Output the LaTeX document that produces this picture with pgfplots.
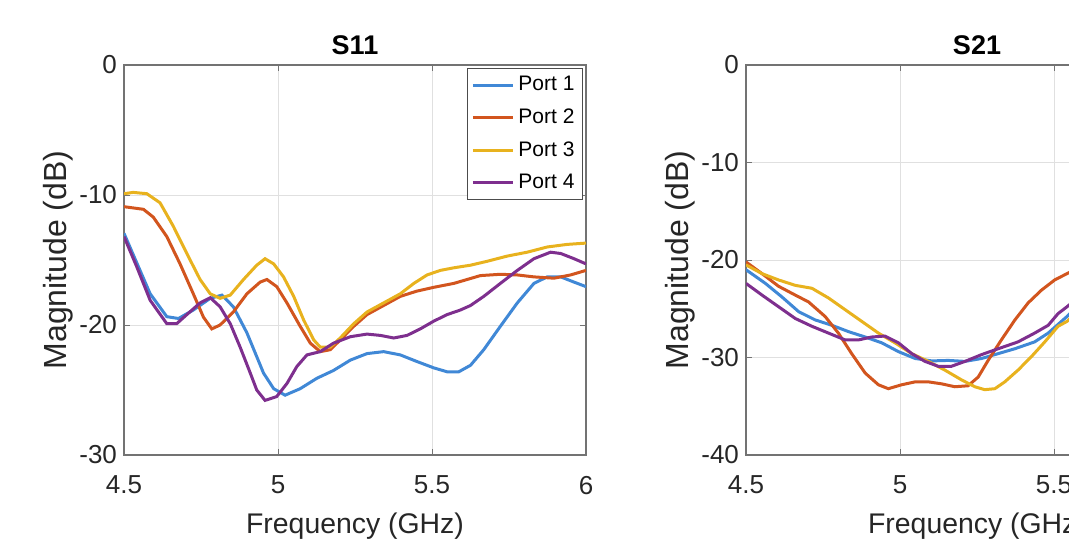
\documentclass[border=0pt]{standalone}
\usepackage{fontspec}
\setmainfont{Liberation Sans}
\usepackage{pgfplots}
\pgfplotsset{compat=1.18}

\definecolor{mblue}{RGB}{64,136,214}
\definecolor{morange}{RGB}{210,85,30}
\definecolor{myellow}{RGB}{232,178,30}
\definecolor{mpurple}{RGB}{126,47,142}
\definecolor{mtext}{RGB}{38,38,38}

\pgfplotsset{
  mstyle/.style={
    scale only axis, width=231pt, height=195pt,
    anchor=south west,
    xmin=4.5, xmax=6,
    xtick={4.5,5,5.5,6},
    grid=major,
    major grid style={black!12, line width=0.4pt},
    axis line style={black!55, line width=0.6pt},
    tick align=inside, major tick length=3pt,
    tick style={black!55},
    every tick label/.append style={font=\fontsize{13}{15}\selectfont, text=mtext},
    xticklabel shift=7pt,
    ylabel shift=-4pt,
    /pgf/number format/assume math mode=true,
    xlabel={Frequency (GHz)},
    ylabel={Magnitude (dB)},
    xlabel style={font=\fontsize{14.2}{16}\selectfont, text=mtext, yshift=-2.5pt},
    ylabel style={font=\fontsize{16}{18}\selectfont, text=mtext},
    title style={font=\fontsize{13.5}{16}\selectfont\bfseries, yshift=-4.5pt},
    every axis plot/.append style={line width=1.5pt, no markers},
  }
}

\begin{document}
\begin{tikzpicture}
\path[use as bounding box] (0pt,0pt) rectangle (534.5pt,275pt);
\clip (0pt,0pt) rectangle (534.5pt,275pt);

\begin{axis}[mstyle, at={(62pt,47.5pt)},
  title={S11},
  ymin=-30, ymax=0, ytick={-30,-20,-10,0},
  legend style={at={(1,1)}, anchor=north east, xshift=-1.5pt, yshift=-1.5pt,
    font=\fontsize{10.5}{12.5}\selectfont, draw=black!70, line width=0.5pt,
    inner sep=2pt, row sep=3.5pt, cells={anchor=west}},
  legend image code/.code={\draw[#1] (0pt,0pt) -- (20pt,0pt);},
]
\addplot[mblue] coordinates {
(4.5,-12.95) (4.585,-17.6) (4.639,-19.36) (4.677,-19.5) (4.725,-18.85) (4.78,-17.95)
(4.818,-17.7) (4.855,-18.6) (4.899,-20.6) (4.953,-23.7) (4.986,-24.9) (5.023,-25.4)
(5.072,-24.9) (5.126,-24.1) (5.18,-23.5) (5.235,-22.7) (5.289,-22.2) (5.343,-22.05)
(5.397,-22.3) (5.45,-22.8) (5.506,-23.3) (5.549,-23.6) (5.587,-23.6) (5.625,-23.1)
(5.668,-21.9) (5.722,-20.1) (5.777,-18.3) (5.831,-16.8) (5.874,-16.3) (5.918,-16.3)
(5.961,-16.7) (6.0,-17.05)};
\addlegendentry{Port 1}
\addplot[morange] coordinates {
(4.5,-10.9) (4.563,-11.1) (4.595,-11.7) (4.639,-13.2) (4.682,-15.3) (4.725,-17.6)
(4.758,-19.4) (4.785,-20.3) (4.812,-20.0) (4.855,-19.0) (4.899,-17.6) (4.942,-16.7)
(4.964,-16.5) (4.996,-17.05) (5.029,-18.3) (5.072,-20.1) (5.105,-21.4) (5.137,-22.05)
(5.17,-21.9) (5.202,-21.15) (5.246,-20.1) (5.289,-19.2) (5.343,-18.5) (5.397,-17.8)
(5.45,-17.4) (5.506,-17.1) (5.571,-16.8) (5.614,-16.5) (5.657,-16.2) (5.722,-16.1)
(5.777,-16.15) (5.831,-16.3) (5.896,-16.4) (5.95,-16.15) (6.0,-15.8)};
\addlegendentry{Port 2}
\addplot[myellow] coordinates {
(4.5,-9.9) (4.53,-9.8) (4.574,-9.9) (4.617,-10.6) (4.66,-12.4) (4.704,-14.5)
(4.747,-16.5) (4.78,-17.6) (4.812,-17.95) (4.845,-17.7) (4.888,-16.5) (4.931,-15.4)
(4.958,-14.9) (4.986,-15.3) (5.018,-16.3) (5.051,-17.8) (5.083,-19.6) (5.116,-21.15)
(5.137,-21.7) (5.17,-21.7) (5.202,-21.0) (5.246,-19.9) (5.289,-19.0) (5.343,-18.3)
(5.397,-17.6) (5.441,-16.8) (5.484,-16.15) (5.527,-15.8) (5.571,-15.6) (5.625,-15.4)
(5.679,-15.1) (5.744,-14.7) (5.809,-14.4) (5.874,-14.0) (5.939,-13.8) (6.0,-13.7)};
\addlegendentry{Port 3}
\addplot[mpurple] coordinates {
(4.5,-13.2) (4.541,-15.5) (4.585,-18.1) (4.639,-19.9) (4.671,-19.9) (4.704,-19.2)
(4.747,-18.3) (4.78,-17.9) (4.812,-18.6) (4.845,-19.9) (4.877,-21.7) (4.91,-23.7)
(4.931,-25.0) (4.958,-25.8) (4.996,-25.5) (5.029,-24.5) (5.061,-23.2) (5.094,-22.3)
(5.137,-22.05) (5.18,-21.4) (5.235,-20.9) (5.289,-20.7) (5.332,-20.8) (5.376,-21.0)
(5.419,-20.8) (5.462,-20.3) (5.506,-19.7) (5.549,-19.2) (5.592,-18.85) (5.625,-18.5)
(5.668,-17.8) (5.722,-16.8) (5.777,-15.8) (5.831,-14.9) (5.885,-14.4) (5.918,-14.5)
(5.961,-14.9) (6.0,-15.3)};
\addlegendentry{Port 4}
\end{axis}

\begin{axis}[mstyle, at={(373pt,47.5pt)},
  title={S21},
  ymin=-40, ymax=0, ytick={-40,-30,-20,-10,0},
]
\addplot[mblue] coordinates {
(4.5,-21.0) (4.563,-22.4) (4.617,-23.8) (4.671,-25.3) (4.725,-26.15) (4.779,-26.7)
(4.833,-27.35) (4.887,-27.9) (4.941,-28.5) (4.995,-29.4) (5.049,-30.1) (5.103,-30.35)
(5.157,-30.3) (5.211,-30.4) (5.265,-30.1) (5.319,-29.6) (5.373,-29.1) (5.437,-28.4)
(5.481,-27.5) (5.524,-26.3) (5.542,-25.8) (5.58,-24.6)};
\addplot[morange] coordinates {
(4.5,-20.2) (4.552,-21.4) (4.606,-22.7) (4.66,-23.6) (4.703,-24.3) (4.757,-25.8)
(4.8,-27.5) (4.843,-29.6) (4.887,-31.6) (4.93,-32.8) (4.962,-33.2) (5.005,-32.8)
(5.049,-32.5) (5.092,-32.5) (5.135,-32.7) (5.178,-33.0) (5.221,-32.9) (5.254,-32.0)
(5.286,-30.3) (5.329,-28.2) (5.373,-26.15) (5.416,-24.4) (5.459,-23.1) (5.502,-22.05)
(5.542,-21.4) (5.58,-20.8)};
\addplot[myellow] coordinates {
(4.5,-20.5) (4.552,-21.4) (4.606,-22.05) (4.66,-22.6) (4.714,-22.9) (4.768,-23.9)
(4.822,-25.1) (4.876,-26.3) (4.93,-27.5) (4.984,-28.5) (5.038,-29.6) (5.092,-30.4)
(5.146,-31.3) (5.2,-32.3) (5.243,-33.0) (5.275,-33.3) (5.308,-33.2) (5.34,-32.5)
(5.383,-31.3) (5.427,-29.9) (5.47,-28.4) (5.513,-26.8) (5.542,-26.3) (5.58,-25.2)};
\addplot[mpurple] coordinates {
(4.5,-22.4) (4.552,-23.6) (4.606,-24.8) (4.66,-26.0) (4.714,-26.8) (4.768,-27.5)
(4.822,-28.2) (4.865,-28.2) (4.908,-27.9) (4.951,-27.8) (4.995,-28.5) (5.038,-29.6)
(5.081,-30.4) (5.124,-30.9) (5.167,-30.9) (5.211,-30.4) (5.265,-29.7) (5.319,-29.1)
(5.383,-28.4) (5.437,-27.5) (5.481,-26.7) (5.513,-25.5) (5.542,-24.8) (5.58,-23.8)};
\end{axis}
\end{tikzpicture}
\end{document}
